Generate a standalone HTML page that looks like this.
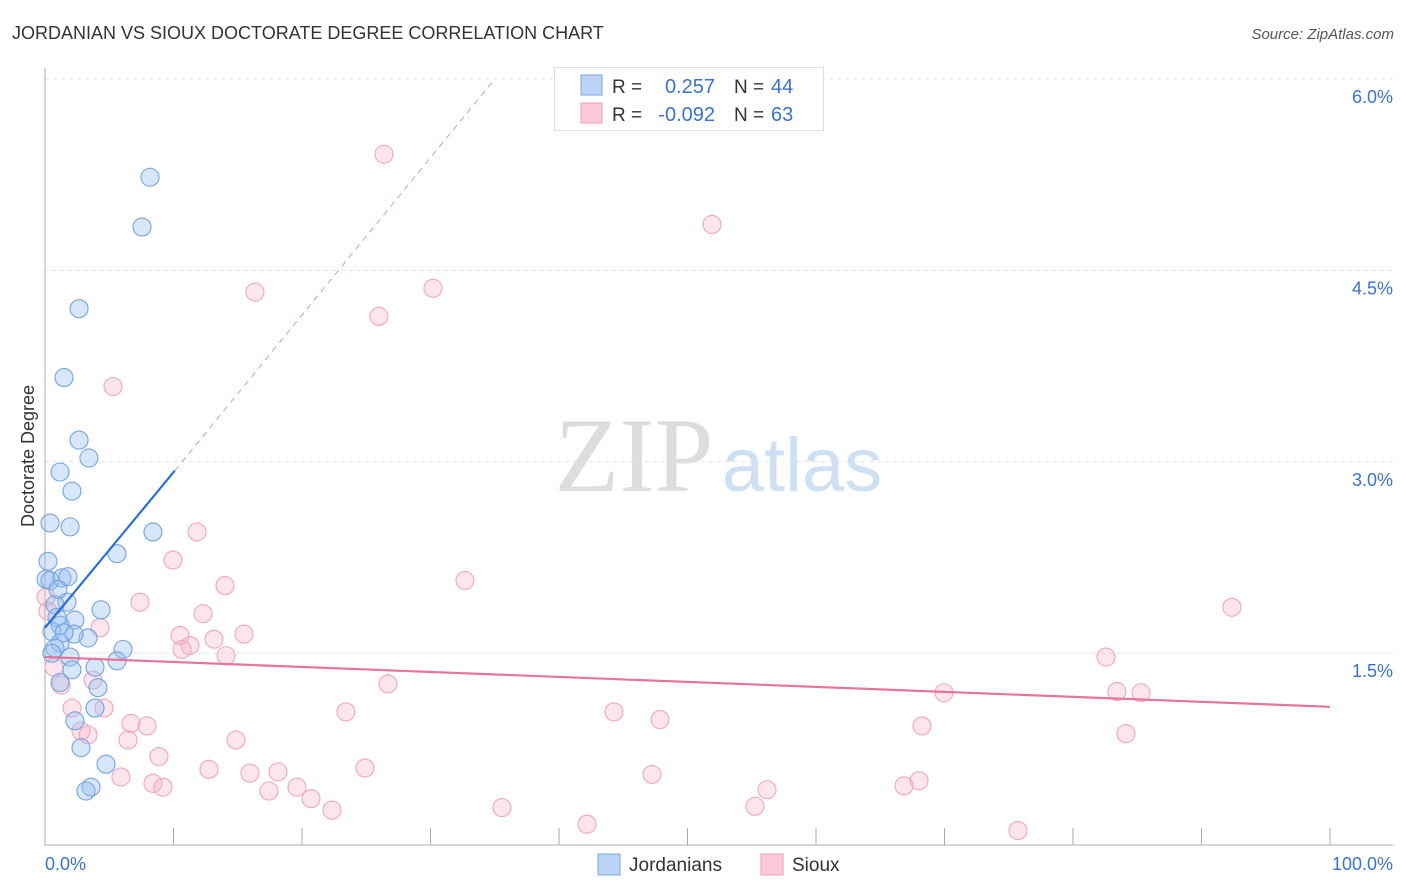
<!DOCTYPE html>
<html><head><meta charset="utf-8"><style>
body{margin:0;background:#fff;font-family:"Liberation Sans",sans-serif;}
svg{display:block}
</style></head><body>
<svg id="chart" width="1406" height="892" font-family="Liberation Sans, sans-serif">
<text x="12" y="39" font-size="18" fill="#333">JORDANIAN VS SIOUX DOCTORATE DEGREE CORRELATION CHART</text>
<text x="1394" y="39" font-size="15" fill="#555" font-style="italic" text-anchor="end">Source: ZipAtlas.com</text>
<text x="34" y="456" font-size="18" fill="#333" text-anchor="middle" transform="rotate(-90 34 456)">Doctorate Degree</text>
<g>
<text x="634" y="491" font-size="106" fill="#ddd" font-family="Liberation Serif, serif" text-anchor="middle">ZIP</text>
<text x="802" y="491" font-size="76" fill="#cfe0f3" text-anchor="middle">atlas</text>
</g>
<g id="grid"></g>
<g id="axes"></g>
<g id="points"></g>
<g id="trends"></g>
<g>
<rect x="554.5" y="67.5" width="269" height="63" fill="#fff" stroke="#ddd"/>
<rect x="581" y="75" width="21" height="20" fill="#bcd5f7" stroke="#7aa6e6"/>
<rect x="581" y="103" width="21" height="20" fill="#fcc9d8" stroke="#eb9fb6"/>
<text x="612" y="93" font-size="19" fill="#333">R =</text>
<text x="715" y="93" font-size="20" fill="#3a73cf" text-anchor="end">0.257</text>
<text x="734" y="93" font-size="19" fill="#333">N =</text>
<text x="771" y="93" font-size="20" fill="#3a73cf">44</text>
<text x="612" y="121" font-size="19" fill="#333">R =</text>
<text x="715" y="121" font-size="20" fill="#3a73cf" text-anchor="end">-0.092</text>
<text x="734" y="121" font-size="19" fill="#333">N =</text>
<text x="771" y="121" font-size="20" fill="#3a73cf">63</text>
</g>
<g>
<rect x="598" y="854" width="22" height="21" fill="#bcd5f7" stroke="#7aa6e6"/>
<text x="629" y="871" font-size="19" fill="#333">Jordanians</text>
<rect x="761" y="854" width="22" height="21" fill="#fcc9d8" stroke="#eb9fb6"/>
<text x="792" y="871" font-size="19" fill="#333">Sioux</text>
</g>
</svg>
<script>
const yTicks=[1.5,3.0,4.5,6.0];
const yTickLabels=["1.5%","3.0%","4.5%","6.0%"];
const xTickLabels=["0.0%","100.0%"];
const jordX=[8.17,7.55,2.65,1.48,2.65,3.42,1.17,2.10,0.39,1.95,8.40,5.60,0.23,0.08,0.39,1.32,1.79,1.71,0.78,4.36,0.93,2.33,1.17,0.54,3.35,2.26,1.17,0.78,6.07,0.54,1.95,5.60,3.89,2.10,4.12,1.17,3.89,2.33,2.80,4.75,3.58,3.19,1.48,1.01];
const jordY=[5.23,4.84,4.20,3.66,3.17,3.03,2.92,2.77,2.52,2.49,2.45,2.28,2.22,2.08,2.07,2.09,2.10,1.90,1.88,1.84,1.78,1.76,1.72,1.67,1.62,1.65,1.58,1.54,1.53,1.50,1.47,1.44,1.39,1.37,1.23,1.27,1.07,0.97,0.76,0.63,0.45,0.42,1.66,2.00];
const siouxX=[26.38,51.91,16.34,30.19,25.99,5.29,11.83,9.96,32.68,14.01,92.37,7.39,12.30,4.28,10.51,15.49,13.15,11.28,10.66,14.09,82.57,0.70,3.74,26.69,1.25,69.96,83.42,85.29,2.10,4.59,23.42,44.28,6.69,7.94,47.86,68.25,2.80,3.35,84.12,6.46,14.86,8.87,24.90,12.76,15.95,18.13,47.24,5.91,8.40,9.18,68.02,66.85,56.19,19.61,17.43,20.70,22.33,35.56,55.25,42.18,75.72,0.23,0.08];
const siouxY=[5.41,4.86,4.33,4.36,4.14,3.59,2.45,2.23,2.07,2.03,1.86,1.90,1.81,1.70,1.64,1.65,1.61,1.56,1.53,1.48,1.47,1.39,1.29,1.26,1.25,1.19,1.20,1.19,1.07,1.07,1.04,1.04,0.95,0.93,0.98,0.93,0.89,0.86,0.87,0.82,0.82,0.69,0.60,0.59,0.56,0.57,0.55,0.53,0.48,0.45,0.50,0.46,0.43,0.45,0.42,0.36,0.27,0.29,0.30,0.16,0.11,1.83,1.94];
const jordTrend=[[0,1.70],[10.1,2.93],[35,6.0]];
const siouxTrend=[[0,1.47],[100,1.08]];
const NS='http://www.w3.org/2000/svg';
const X=v=>45+v*12.85, Y=v=>844.6-v*127.6;
function mk(tag,attrs,parent){const e=document.createElementNS(NS,tag);for(const k in attrs)e.setAttribute(k,attrs[k]);parent.appendChild(e);return e;}
const grid=document.getElementById('grid'),axes=document.getElementById('axes'),pts=document.getElementById('points'),tr=document.getElementById('trends');
yTicks.forEach((t,i)=>{
 const l=mk('line',{x1:45,x2:1393,y1:Y(t),y2:Y(t),stroke:'#e2e2e2','stroke-dasharray':'4,4'},grid);
 
 
 const tx=mk('text',{x:1393,y:Y(t)+24,'font-size':18,fill:'#3a73cf','text-anchor':'end'},axes);
 tx.textContent=yTickLabels[i];
 
 
});
const ax=mk('line',{x1:45,x2:1393,y1:845,y2:845,stroke:'#aaa'},axes);


const ay=mk('line',{x1:45,x2:45,y1:68,y2:845,stroke:'#aaa'},axes);


for(let i=1;i<=10;i++){
 const t=mk('line',{x1:X(i*10),x2:X(i*10),y1:828,y2:845,stroke:'#aaa'},axes);
 
 
}
[[0,'start',45],[1,'end',1393]].forEach(([i,a,x])=>{
 const t=mk('text',{x:x,y:870,'font-size':18,fill:'#3a73cf','text-anchor':a},axes);
 t.textContent=xTickLabels[i];
 
 
});
siouxX.forEach((v,i)=>{
 const c=mk('circle',{cx:X(v),cy:Y(siouxY[i]),r:9,fill:'rgba(246,175,198,0.32)',stroke:'#eea7bd','stroke-width':1.1},pts);
 
 
});
jordX.forEach((v,i)=>{
 const c=mk('circle',{cx:X(v),cy:Y(jordY[i]),r:9,fill:'rgba(150,190,240,0.38)',stroke:'#75a3e2','stroke-width':1.1},pts);
 
 
});
const j1=mk('line',{x1:X(jordTrend[0][0]),y1:Y(jordTrend[0][1]),x2:X(jordTrend[1][0]),y2:Y(jordTrend[1][1]),stroke:'#2a6fd6','stroke-width':2.2},tr);


const j2=mk('line',{x1:X(jordTrend[1][0]),y1:Y(jordTrend[1][1]),x2:X(jordTrend[2][0]),y2:Y(jordTrend[2][1]),stroke:'#8fb3e8','stroke-width':1,'stroke-dasharray':'6,5'},tr);


const s1=mk('line',{x1:X(siouxTrend[0][0]),y1:Y(siouxTrend[0][1]),x2:X(siouxTrend[1][0]),y2:Y(siouxTrend[1][1]),stroke:'#e8739b','stroke-width':2.2},tr);


</script>
</body></html>
